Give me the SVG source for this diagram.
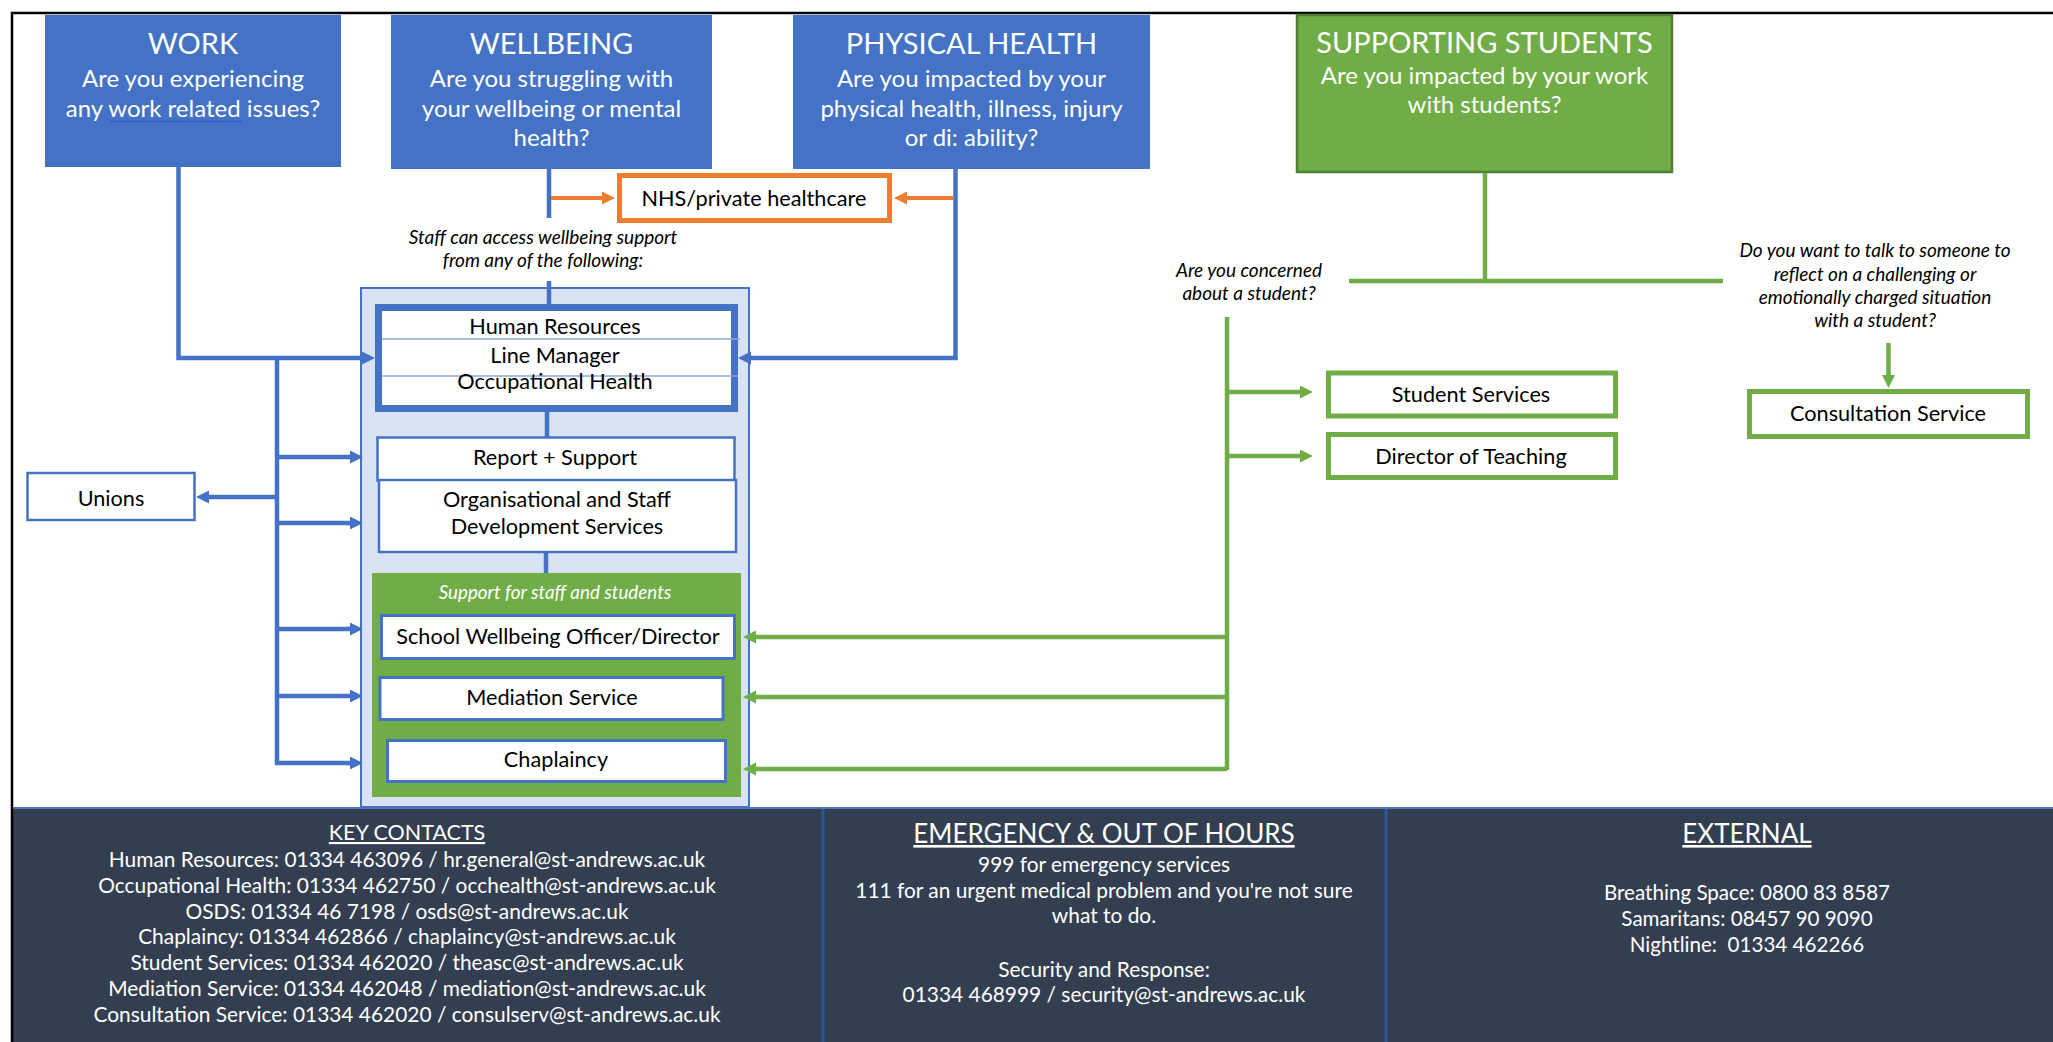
<svg xmlns="http://www.w3.org/2000/svg" width="2053" height="1042" viewBox="0 0 2053 1042">
<style>
text{font-family:Lato,"Liberation Sans",sans-serif;text-anchor:middle}
.hd{fill:#fff;font-size:29px}
.sq{fill:#fff;font-size:24px}
.nt{fill:#000;font-size:21.7px}
.it{fill:#000;font-size:19px;font-style:italic}
.ft{fill:#fff;font-size:20.9px}
.fx{fill:#fff;font-size:20.6px}
.fh{fill:#fff;text-decoration:underline}
.bl{fill:#4472C4}
.wb{fill:#fff;stroke:#4472C4}
.gb{fill:#fff;stroke:#70AD47;stroke-width:5}
.cb{fill:none;stroke:#4472C4;stroke-width:4.5}
.cg{fill:none;stroke:#70AD47;stroke-width:4.5}
.co{fill:none;stroke:#ED7D31;stroke-width:4}
</style>
<defs>
<marker id="mb" markerUnits="userSpaceOnUse" markerWidth="14" markerHeight="14" refX="3" refY="6.5" orient="auto"><path d="M0,0 L13,6.5 L0,13 z" fill="#4472C4"/></marker>
<marker id="mg" markerUnits="userSpaceOnUse" markerWidth="14" markerHeight="14" refX="3" refY="6.5" orient="auto"><path d="M0,0 L13,6.5 L0,13 z" fill="#70AD47"/></marker>
<marker id="mo" markerUnits="userSpaceOnUse" markerWidth="14" markerHeight="14" refX="3" refY="6.5" orient="auto"><path d="M0,0 L13,6.5 L0,13 z" fill="#ED7D31"/></marker>
</defs>
<rect x="0" y="0" width="2053" height="1042" fill="#fff"/>

<g id="footer">
<rect x="13" y="808" width="2040" height="234" fill="#333F50"/>
<line x1="13" y1="808" x2="2053" y2="808" stroke="#4F74B8" stroke-width="2"/>
<line x1="823" y1="809" x2="823" y2="1042" stroke="#2F5597" stroke-width="3"/>
<line x1="1386" y1="809" x2="1386" y2="1042" stroke="#2F5597" stroke-width="3"/>
<g id="key-contacts">
<text class="fh" x="407" y="840" font-size="21.5">KEY CONTACTS</text>
<text class="ft" x="407" y="867">Human Resources: 01334 463096 / hr.general@st-andrews.ac.uk</text>
<text class="ft" x="407" y="892.8">Occupational Health: 01334 462750 / occhealth@st-andrews.ac.uk</text>
<text class="ft" x="407" y="918.6">OSDS: 01334 46 7198 / osds@st-andrews.ac.uk</text>
<text class="ft" x="407" y="944.4">Chaplaincy: 01334 462866 / chaplaincy@st-andrews.ac.uk</text>
<text class="ft" x="407" y="970.2">Student Services: 01334 462020 / theasc@st-andrews.ac.uk</text>
<text class="ft" x="407" y="996">Mediation Service: 01334 462048 / mediation@st-andrews.ac.uk</text>
<text class="ft" x="407" y="1021.8">Consultation Service: 01334 462020 / consulserv@st-andrews.ac.uk</text>
</g>
<g id="emergency">
<text class="fh" x="1104" y="843" font-size="26">EMERGENCY &amp; OUT OF HOURS</text>
<text class="ft" x="1104" y="872">999 for emergency services</text>
<text class="ft" x="1104" y="898">111 for an urgent medical problem and you're not sure</text>
<text class="ft" x="1104" y="923">what to do.</text>
<text class="ft" x="1104" y="977">Security and Response:</text>
<text class="ft" x="1104" y="1002">01334 468999 / security@st-andrews.ac.uk</text>
</g>
<g id="external">
<text class="fh" x="1747" y="843" font-size="26">EXTERNAL</text>
<text class="fx" x="1747" y="900">Breathing Space: 0800 83 8587</text>
<text class="fx" x="1747" y="926">Samaritans: 08457 90 9090</text>
<text class="fx" x="1747" y="952">Nightline:&#160; 01334 462266</text>
</g>
</g>

<path d="M12,1042 V13 H2053" fill="none" stroke="#000" stroke-width="2.5"/>

<g id="work">
<rect class="bl" x="45" y="15" width="296" height="152"/>
<text class="hd" x="193" y="54">WORK</text>
<text class="sq" x="193" y="87">Are you experiencing</text>
<text class="sq" x="193" y="117">any work related issues?</text>
<line x1="110" y1="121.5" x2="241" y2="121.5" stroke="#2B4FC8" stroke-width="1.5" stroke-dasharray="1.5 1"/>
</g>
<g id="wellbeing">
<rect class="bl" x="391" y="15" width="321" height="154"/>
<text class="hd" x="551.5" y="54">WELLBEING</text>
<text class="sq" x="551.5" y="87">Are you struggling with</text>
<text class="sq" x="551.5" y="116.5">your wellbeing or mental</text>
<text class="sq" x="551.5" y="146">health?</text>
</g>
<g id="physical-health">
<rect class="bl" x="793" y="15" width="357" height="154"/>
<text class="hd" x="971.5" y="54">PHYSICAL HEALTH</text>
<text class="sq" x="971.5" y="87">Are you impacted by your</text>
<text class="sq" x="971.5" y="116.5">physical health, illness, injury</text>
<text class="sq" x="971.5" y="146">or di: ability?</text>
</g>
<g id="supporting-students">
<rect x="1297" y="15" width="375" height="157" fill="#70AD47" stroke="#507E32" stroke-width="2.5"/>
<text class="hd" x="1484.5" y="53">SUPPORTING STUDENTS</text>
<text class="sq" x="1484.5" y="84">Are you impacted by your work</text>
<text class="sq" x="1484.5" y="113">with students?</text>
</g>
<g id="nhs">
<rect x="619.5" y="175.5" width="270" height="45" fill="#fff" stroke="#ED7D31" stroke-width="5"/>
<text class="nt" x="754" y="206" font-size="23.5">NHS/private healthcare</text>
</g>

<g id="labels">
<text class="it" x="543" y="244">Staff can access wellbeing support</text>
<text class="it" x="543" y="267">from any of the following:</text>
<text class="it" x="1249" y="277">Are you concerned</text>
<text class="it" x="1249" y="300">about a student?</text>
<text class="it" x="1875" y="257">Do you want to talk to someone to</text>
<text class="it" x="1875" y="281">reflect on a challenging or</text>
<text class="it" x="1875" y="304">emotionally charged situation</text>
<text class="it" x="1875" y="327">with a student?</text>
</g>

<g id="support-container">
<rect x="361" y="288" width="388" height="519" fill="#DAE3F3" stroke="#4472C4" stroke-width="2"/>
</g>
<g id="staff-support">
<rect x="372" y="573" width="369" height="224" fill="#70AD47"/>
<text x="555" y="599" fill="#fff" font-size="18.8" font-style="italic">Support for staff and students</text>
</g>

<g id="connectors">
<path class="cb" d="M178.5,167 V358 H365" marker-end="url(#mb)"/>
<path class="cb" d="M277,358 V763 H353" marker-end="url(#mb)"/>
<path class="cb" d="M277,457 H353" marker-end="url(#mb)"/>
<path class="cb" d="M277,523 H353" marker-end="url(#mb)"/>
<path class="cb" d="M277,629 H353" marker-end="url(#mb)"/>
<path class="cb" d="M277,696 H353" marker-end="url(#mb)"/>
<path class="cb" d="M277,497 H206" marker-end="url(#mb)"/>
<path class="cb" d="M955.5,169 V358 H748" marker-end="url(#mb)"/>
<path class="cb" d="M549,169 V218 M549,281 V306"/>
<path class="cb" d="M547,410 V438"/>
<path class="cb" d="M546,552 V573"/>
<path class="co" d="M551,198 H605" marker-end="url(#mo)"/>
<path class="co" d="M953,198 H904" marker-end="url(#mo)"/>
<path class="cg" d="M1485,173 V281 M1349,281 H1723"/>
<path class="cg" d="M1227,317 V770"/>
<path class="cg" d="M1227,392 H1303" marker-end="url(#mg)"/>
<path class="cg" d="M1227,456 H1303" marker-end="url(#mg)"/>
<path class="cg" d="M1227,637 H753" marker-end="url(#mg)"/>
<path class="cg" d="M1227,697 H753" marker-end="url(#mg)"/>
<path class="cg" d="M1227,769 H753" marker-end="url(#mg)"/>
<path class="cg" d="M1888.5,343 V378" marker-end="url(#mg)"/>
</g>

<g id="hr-lm-oh">
<rect class="wb" x="378.5" y="307.5" width="356" height="101" stroke-width="7"/>
<line x1="382" y1="339" x2="740" y2="339" stroke="#8FAADC" stroke-width="1.5"/>
<line x1="382" y1="376" x2="738" y2="376" stroke="#8FAADC" stroke-width="1.5"/>
<text class="nt" x="555" y="334">Human Resources</text>
<text class="nt" x="555" y="362.5">Line Manager</text>
<text class="nt" x="555" y="389">Occupational Health</text>
</g>
<g id="report-support">
<rect class="wb" x="377.5" y="437.5" width="357" height="43" stroke-width="2.5"/>
<text class="nt" x="555" y="465">Report + Support</text>
</g>
<g id="osds">
<rect class="wb" x="379" y="480" width="357" height="72" stroke-width="2.5"/>
<text class="nt" x="557" y="507">Organisational and Staff</text>
<text class="nt" x="557" y="534">Development Services</text>
</g>
<g id="school-wellbeing">
<rect class="wb" x="381.5" y="615.5" width="353" height="43" stroke-width="3"/>
<text class="nt" x="558" y="644">School Wellbeing Officer/Director</text>
</g>
<g id="mediation">
<rect class="wb" x="380" y="677.5" width="343" height="42" stroke-width="3"/>
<text class="nt" x="552" y="705">Mediation Service</text>
</g>
<g id="chaplaincy">
<rect class="wb" x="387.5" y="740.5" width="338" height="41" stroke-width="3"/>
<text class="nt" x="556" y="767">Chaplaincy</text>
</g>
<g id="unions">
<rect class="wb" x="27.5" y="473" width="167" height="47" stroke-width="2.5"/>
<text class="nt" x="111" y="505.5" font-size="26.5">Unions</text>
</g>
<g id="student-services">
<rect class="gb" x="1328.5" y="373" width="287" height="43"/>
<text class="nt" x="1471" y="402">Student Services</text>
</g>
<g id="director-teaching">
<rect class="gb" x="1328.5" y="434.5" width="287" height="43"/>
<text class="nt" x="1471" y="464">Director of Teaching</text>
</g>
<g id="consultation-service">
<rect class="gb" x="1749.5" y="391.5" width="278" height="45"/>
<text class="nt" x="1888" y="421">Consultation Service</text>
</g>
</svg>
